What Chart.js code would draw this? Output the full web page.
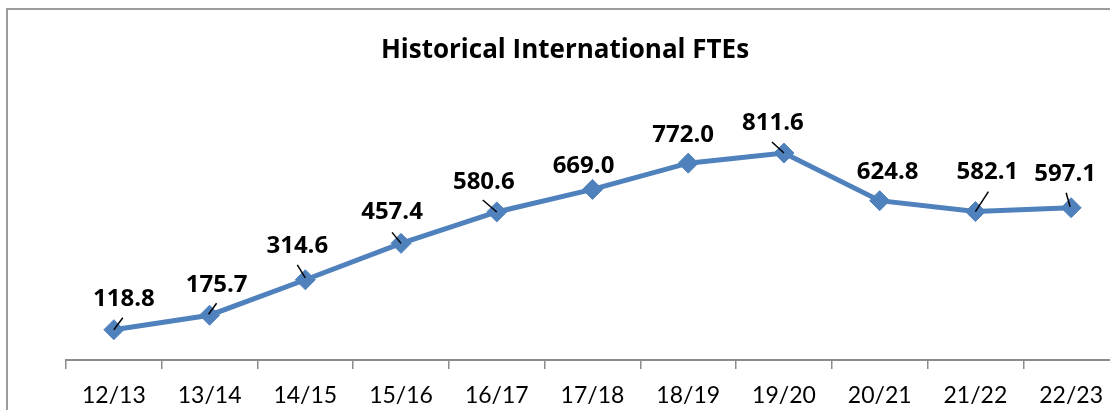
<!DOCTYPE html>
<html>
<head>
<meta charset="utf-8">
<script src="https://cdn.jsdelivr.net/npm/chart.js@4/dist/chart.umd.min.js"></script>
<style>
  html, body { margin: 0; padding: 0; background: #ffffff; overflow: hidden; width: 1110px; height: 410px; }
  #frame { position: absolute; left: 6px; top: 8px; width: 1200px; height: 500px; border: 2px solid #9c9c9c; box-sizing: border-box; }
  #c { position: absolute; left: 0; top: 0; }
</style>
</head>
<body>
<div id="frame"></div>
<canvas id="c" width="1130" height="410" style="width:1130px;height:410px"></canvas>
<script>
// ---- data ----
const chartTitle = "Historical International FTEs";
const categories = ["12/13", "13/14", "14/15", "15/16", "16/17", "17/18", "18/19", "19/20", "20/21", "21/22", "22/23"];
const fteValues = [118.8, 175.7, 314.6, 457.4, 580.6, 669.0, 772.0, 811.6, 624.8, 582.1, 597.1];
const yMin = 0;
const yMax = 1000;

// ---- label placement (style: offsets relative to each point) ----
const labelOffsets = [[10,-31],[7,-30],[-8,-34],[-9,-31],[-13,-30],[-9,-23],[-5,-28],[-11,-30],[8,-29],[12,-39],[-6,-34]];
const leaderLines = [[0,0,9,-12],[-1,-1,7,-12],[-8,-15,0,-2],[-9,-11,0,0],[-14,-12,0,0],null,null,[-12,-11,0,0],null,[13,-20,0,0],[-5,-15,-1,-1]];

const labelsPlugin = {
  id: 'labelsPlugin',
  afterDatasetsDraw(chart) {
    const ctx = chart.ctx;
    const meta = chart.getDatasetMeta(0);
    ctx.save();
    // title
    ctx.fillStyle = '#000';
    ctx.font = 'bold 26px "Open Sans"';
    ctx.textAlign = 'center';
    ctx.textBaseline = 'middle';
    ctx.fillText(chartTitle, 565, 51);
    // leader lines
    ctx.strokeStyle = '#000';
    ctx.lineWidth = 1.5;
    meta.data.forEach((pt, i) => {
      const l = leaderLines[i];
      if (!l) return;
      ctx.beginPath();
      ctx.moveTo(pt.x + l[0], pt.y + l[1]);
      ctx.lineTo(pt.x + l[2], pt.y + l[3]);
      ctx.stroke();
    });
    // value labels
    ctx.font = 'bold 24px "Open Sans"';
    meta.data.forEach((pt, i) => {
      const o = labelOffsets[i];
      ctx.fillText(fteValues[i].toFixed(1), pt.x + o[0], pt.y + o[1]);
    });
    ctx.restore();
  }
};

new Chart(document.getElementById('c'), {
  type: 'line',
  data: {
    labels: categories,
    datasets: [{
      data: fteValues,
      borderColor: '#4f81bd',
      borderWidth: 5,
      backgroundColor: '#4f81bd',
      pointStyle: 'rectRot',
      pointRadius: 10,
      pointBackgroundColor: '#4f81bd',
      pointBorderColor: '#4f81bd',
      pointBorderWidth: 1,
      tension: 0,
      fill: false
    }]
  },
  options: {
    responsive: false,
    devicePixelRatio: 1,
    animation: false,
    layout: { padding: { left: 66, right: 8, top: 105, bottom: 0 } },
    plugins: { legend: { display: false }, title: { display: false }, tooltip: { enabled: false } },
    scales: {
      x: {
        offset: true,
        grid: { offset: true, drawOnChartArea: false, drawTicks: true, tickLength: 9, color: '#8c8c8c', lineWidth: 1.5 },
        border: { display: true, color: '#8c8c8c', width: 2 },
        ticks: { color: '#000', font: { family: 'Lato', size: 23 }, padding: 13, maxRotation: 0, autoSkip: false },
        afterFit(s) { s.height = 50; }
      },
      y: { display: false, min: yMin, max: yMax }
    }
  },
  plugins: [labelsPlugin]
});
</script>
</body>
</html>
